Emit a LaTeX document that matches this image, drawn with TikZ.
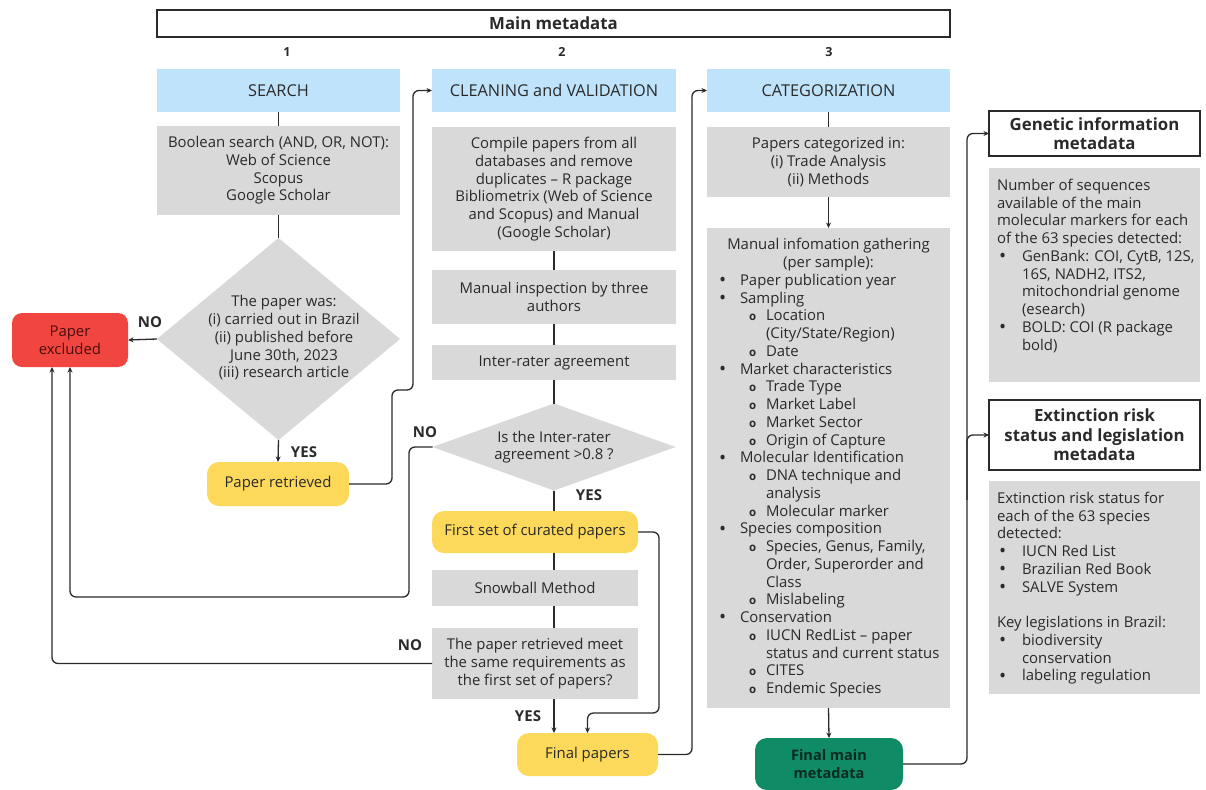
\documentclass[tikz,border=0pt]{standalone}
\usepackage{fontspec}
\setmainfont{Open Sans}
\usetikzlibrary{shapes.geometric,arrows.meta,calc}
\definecolor{cblue}{HTML}{BFE3FA}
\definecolor{cgray}{HTML}{D9D9D9}
\definecolor{cyel}{HTML}{FCD95A}
\definecolor{cred}{HTML}{F1463F}
\definecolor{cgreen}{HTML}{0F8B66}
\definecolor{ctext}{HTML}{2A2A2A}
\definecolor{credtxt}{HTML}{4A0E0E}
\definecolor{cgrntxt}{HTML}{0B2A20}
\newcommand\bodyfs{\fontsize{14.9}{17.75}\selectfont}
\newcommand\headfs{\fontsize{16.3}{18}\selectfont}
\newcommand\boldfs{\fontsize{16.8}{19.5}\selectfont}
\newcommand\bul{\raisebox{-1.2pt}{\fontsize{19}{14}\selectfont\textbullet}}
\newcommand\mb{\hspace*{12pt}\makebox[21pt][l]{\bul}}
\newcommand\ms{\hspace*{42pt}\makebox[17pt][l]{\fontsize{11.5}{11}\selectfont\bfseries o}}
\newcommand\msc{\hspace*{59pt}}
\newcommand\rb{\hspace*{2pt}\makebox[23pt][l]{\bul}}
\newcommand\rc{\hspace*{25pt}}
\begin{document}
\begin{tikzpicture}[x=1pt,y=-1pt,
  every node/.style={inner sep=0pt, outer sep=0pt, text=ctext, font=\bodyfs},
  box/.style={rectangle, fill=cgray, align=center},
  head/.style={rectangle, fill=cblue, align=center, font=\headfs},
  term/.style={rectangle, rounded corners=12pt, fill=cyel, align=center},
  meta/.style={rectangle, draw=ctext, line width=1.3pt, fill=white, align=center, font=\bfseries\boldfs},
  conn/.style={line width=1.3pt, rounded corners=6pt, draw=ctext},
  arr/.style={conn, -{Stealth[length=5.5pt,width=5pt]}},
  lbl/.style={font=\bfseries\fontsize{15}{18}\selectfont}]
\useasboundingbox (0,0) rectangle (1206,789);
\fill[white] (0,0) rectangle (1206,789);

% top
\node[draw=ctext, line width=1.3pt, minimum width=793pt, minimum height=27pt, font=\bfseries\boldfs] (main) at (553.5,23.5) {Main metadata};
\node[font=\bfseries\fontsize{12.5}{14}\selectfont] (n1) at (287,52) {1};
\node[font=\bfseries\fontsize{12.5}{14}\selectfont] (n2) at (562,52) {2};
\node[font=\bfseries\fontsize{12.5}{14}\selectfont] (n3) at (829,52) {3};

% column 1
\node[head, minimum width=243pt, minimum height=43pt] (search) at (278.5,90.5) {SEARCH};
\node[box, minimum width=243pt, minimum height=89pt] (bool) at (278.5,170.5) {Boolean search (AND, OR, NOT):\\Web of Science\\Scopus\\Google Scholar};
\node[diamond, fill=cgray, minimum width=243pt, minimum height=202pt] (dia1) at (278.5,339) {};
\node[align=center] (dia1t) at (284,338) {The paper was:\\(i) carried out in Brazil\\(ii) published before\\June 30th, 2023\\(iii) research article};
\node[rectangle, rounded corners=10pt, fill=cred, minimum width=116pt, minimum height=54pt, align=center, text=credtxt] (excl) at (70,340) {Paper\\excluded};
\node[term, minimum width=142pt, minimum height=44pt] (retr) at (278,484) {Paper retrieved};

% column 2
\node[head, minimum width=244pt, minimum height=43pt] (clean) at (554,90.5) {CLEANING and VALIDATION};
\node[box, minimum width=244pt, minimum height=124pt] (compile) at (554,189) {Compile papers from all\\databases and remove\\duplicates -- R package\\Bibliometrix (Web of Science\\and Scopus) and Manual\\(Google Scholar)};
\node[box, minimum width=244pt, minimum height=54pt] (manual) at (554,297) {Manual inspection by three\\authors};
\node[box, minimum width=244pt, minimum height=35pt] (inter) at (554,362.5) {Inter-rater agreement};
\node[diamond, fill=cgray, minimum width=243pt, minimum height=87pt] (dia2) at (554,447) {};
\node[align=center] (dia2t) at (554,447) {Is the Inter-rater\\agreement >0.8 ?};
\node[term, minimum width=206pt, minimum height=42pt] (first) at (535,532) {First set of curated papers};
\node[box, minimum width=206pt, minimum height=36pt] (snow) at (535,588) {Snowball Method};
\node[box, minimum width=206pt, minimum height=71pt] (meet) at (535,663.5) {The paper retrieved meet\\the same requirements as\\the first set of papers?};
\node[term, minimum width=141pt, minimum height=43pt] (final) at (587.5,754.5) {Final papers};

% column 3
\node[head, minimum width=243pt, minimum height=43pt] (cat) at (828.5,90.5) {CATEGORIZATION};
\node[box, minimum width=243pt, minimum height=70pt] (papers) at (828.5,162) {Papers categorized in:\\(i) Trade Analysis\\(ii) Methods};
\node[box, minimum width=243pt, minimum height=480pt] (minfo) at (828.5,468) {};
\node[anchor=north, align=center] (mtitle) at (828.5,238) {Manual infomation gathering\\(per sample):};
\node[anchor=north west, align=left] (mlist) at (707,274) {%
\mb Paper publication year\\
\mb Sampling\\
\ms Location\\
\msc (City/State/Region)\\
\ms Date\\
\mb Market characteristics\\
\ms Trade Type\\
\ms Market Label\\
\ms Market Sector\\
\ms Origin of Capture\\
\mb Molecular Identification\\
\ms DNA technique and\\
\msc analysis\\
\ms Molecular marker\\
\mb Species composition\\
\ms Species, Genus, Family,\\
\msc Order, Superorder and\\
\msc Class\\
\ms Mislabeling\\
\mb Conservation\\
\ms IUCN RedList -- paper\\
\msc status and current status\\
\ms CITES\\
\ms Endemic Species};
\node[rectangle, rounded corners=12pt, fill=cgreen, minimum width=148pt, minimum height=52pt, align=center, text=cgrntxt, font=\bfseries\fontsize{14.5}{18}\selectfont] (fmain) at (829,764) {Final main\\metadata};

% right column
\node[meta, minimum width=211pt, minimum height=45pt] (gen) at (1094.5,133.5) {Genetic information\\metadata};
\node[box, minimum width=211pt, minimum height=214pt] (gengray) at (1094.5,275) {};
\node[anchor=north west, align=left] (gentext) at (997,179) {%
Number of sequences\\
available of the main\\
molecular markers for each\\
of the 63 species detected:\\
\rb GenBank: COI, CytB, 12S,\\
\rc 16S, NADH2, ITS2,\\
\rc mitochondrial genome\\
\rc (esearch)\\
\rb BOLD: COI (R package\\
\rc bold)};
\node[meta, minimum width=211pt, minimum height=70pt] (ext) at (1094.5,435) {Extinction risk\\status and legislation\\metadata};
\node[box, minimum width=211pt, minimum height=213pt] (extgray) at (1094.5,587.5) {};
\node[anchor=north west, align=left] (exttext) at (997,492) {%
Extinction risk status for\\
each of the 63 species\\
detected:\\
\rb IUCN Red List\\
\rb Brazilian Red Book\\
\rb SALVE System\\[17.75pt]
Key legislations in Brazil:\\
\rb biodiversity\\
\rc conservation\\
\rb labeling regulation};

% connectors column 1
\draw[conn] (search.south) -- (bool.north);
\draw[conn] (bool.south) -- (dia1.north);
\draw[arr] (dia1.west) -- (excl.east);
\draw[arr] (dia1.south) -- (retr.north);
\draw[arr] (retr.east) -- (392,484) -- (392,390) -- (413,390) -- (413,90.5) -- (clean.west);

% connectors column 2
\draw[conn] (compile.south) -- (manual.north);
\draw[conn] (manual.south) -- (inter.north);
\draw[conn] (inter.south) -- (dia2.north);
\draw[conn] (dia2.south) -- (first.north -| dia2.south);
\draw[conn] (first.south -| dia2.south) -- (snow.north -| dia2.south);
\draw[conn] (snow.south -| dia2.south) -- (meet.north -| dia2.south);
\draw[arr] (meet.south -| dia2.south) -- (final.north -| dia2.south);
\draw[arr] (first.east) -| (659,713) -| (final.north);
\draw[arr] (final.east) -| (692,90.5) -- (cat.west);
\draw[arr] (dia2.west) -| (409,597) -| (excl.south);
\draw[arr] (meet.west) -| ([xshift=-18pt]excl.south);

% connectors column 3
\draw[conn] (cat.south) -- (papers.north);
\draw[arr] (papers.south) -- (minfo.north);
\draw[arr] (minfo.south) -- (fmain.north);
\draw[arr] (fmain.east) -| (967,133.5) -- (gen.west);
\coordinate (fork) at (967,500);
\draw[arr] (fork) |- (ext.west);

% labels
\node[lbl] (no1) at (150,322) {NO};
\node[lbl] (yes1) at (304,452) {YES};
\node[lbl] (no2) at (425,432) {NO};
\node[lbl] (yes2) at (589,495) {YES};
\node[lbl] (no3) at (410,645) {NO};
\node[lbl] (yes3) at (528,716) {YES};
\end{tikzpicture}
\end{document}
